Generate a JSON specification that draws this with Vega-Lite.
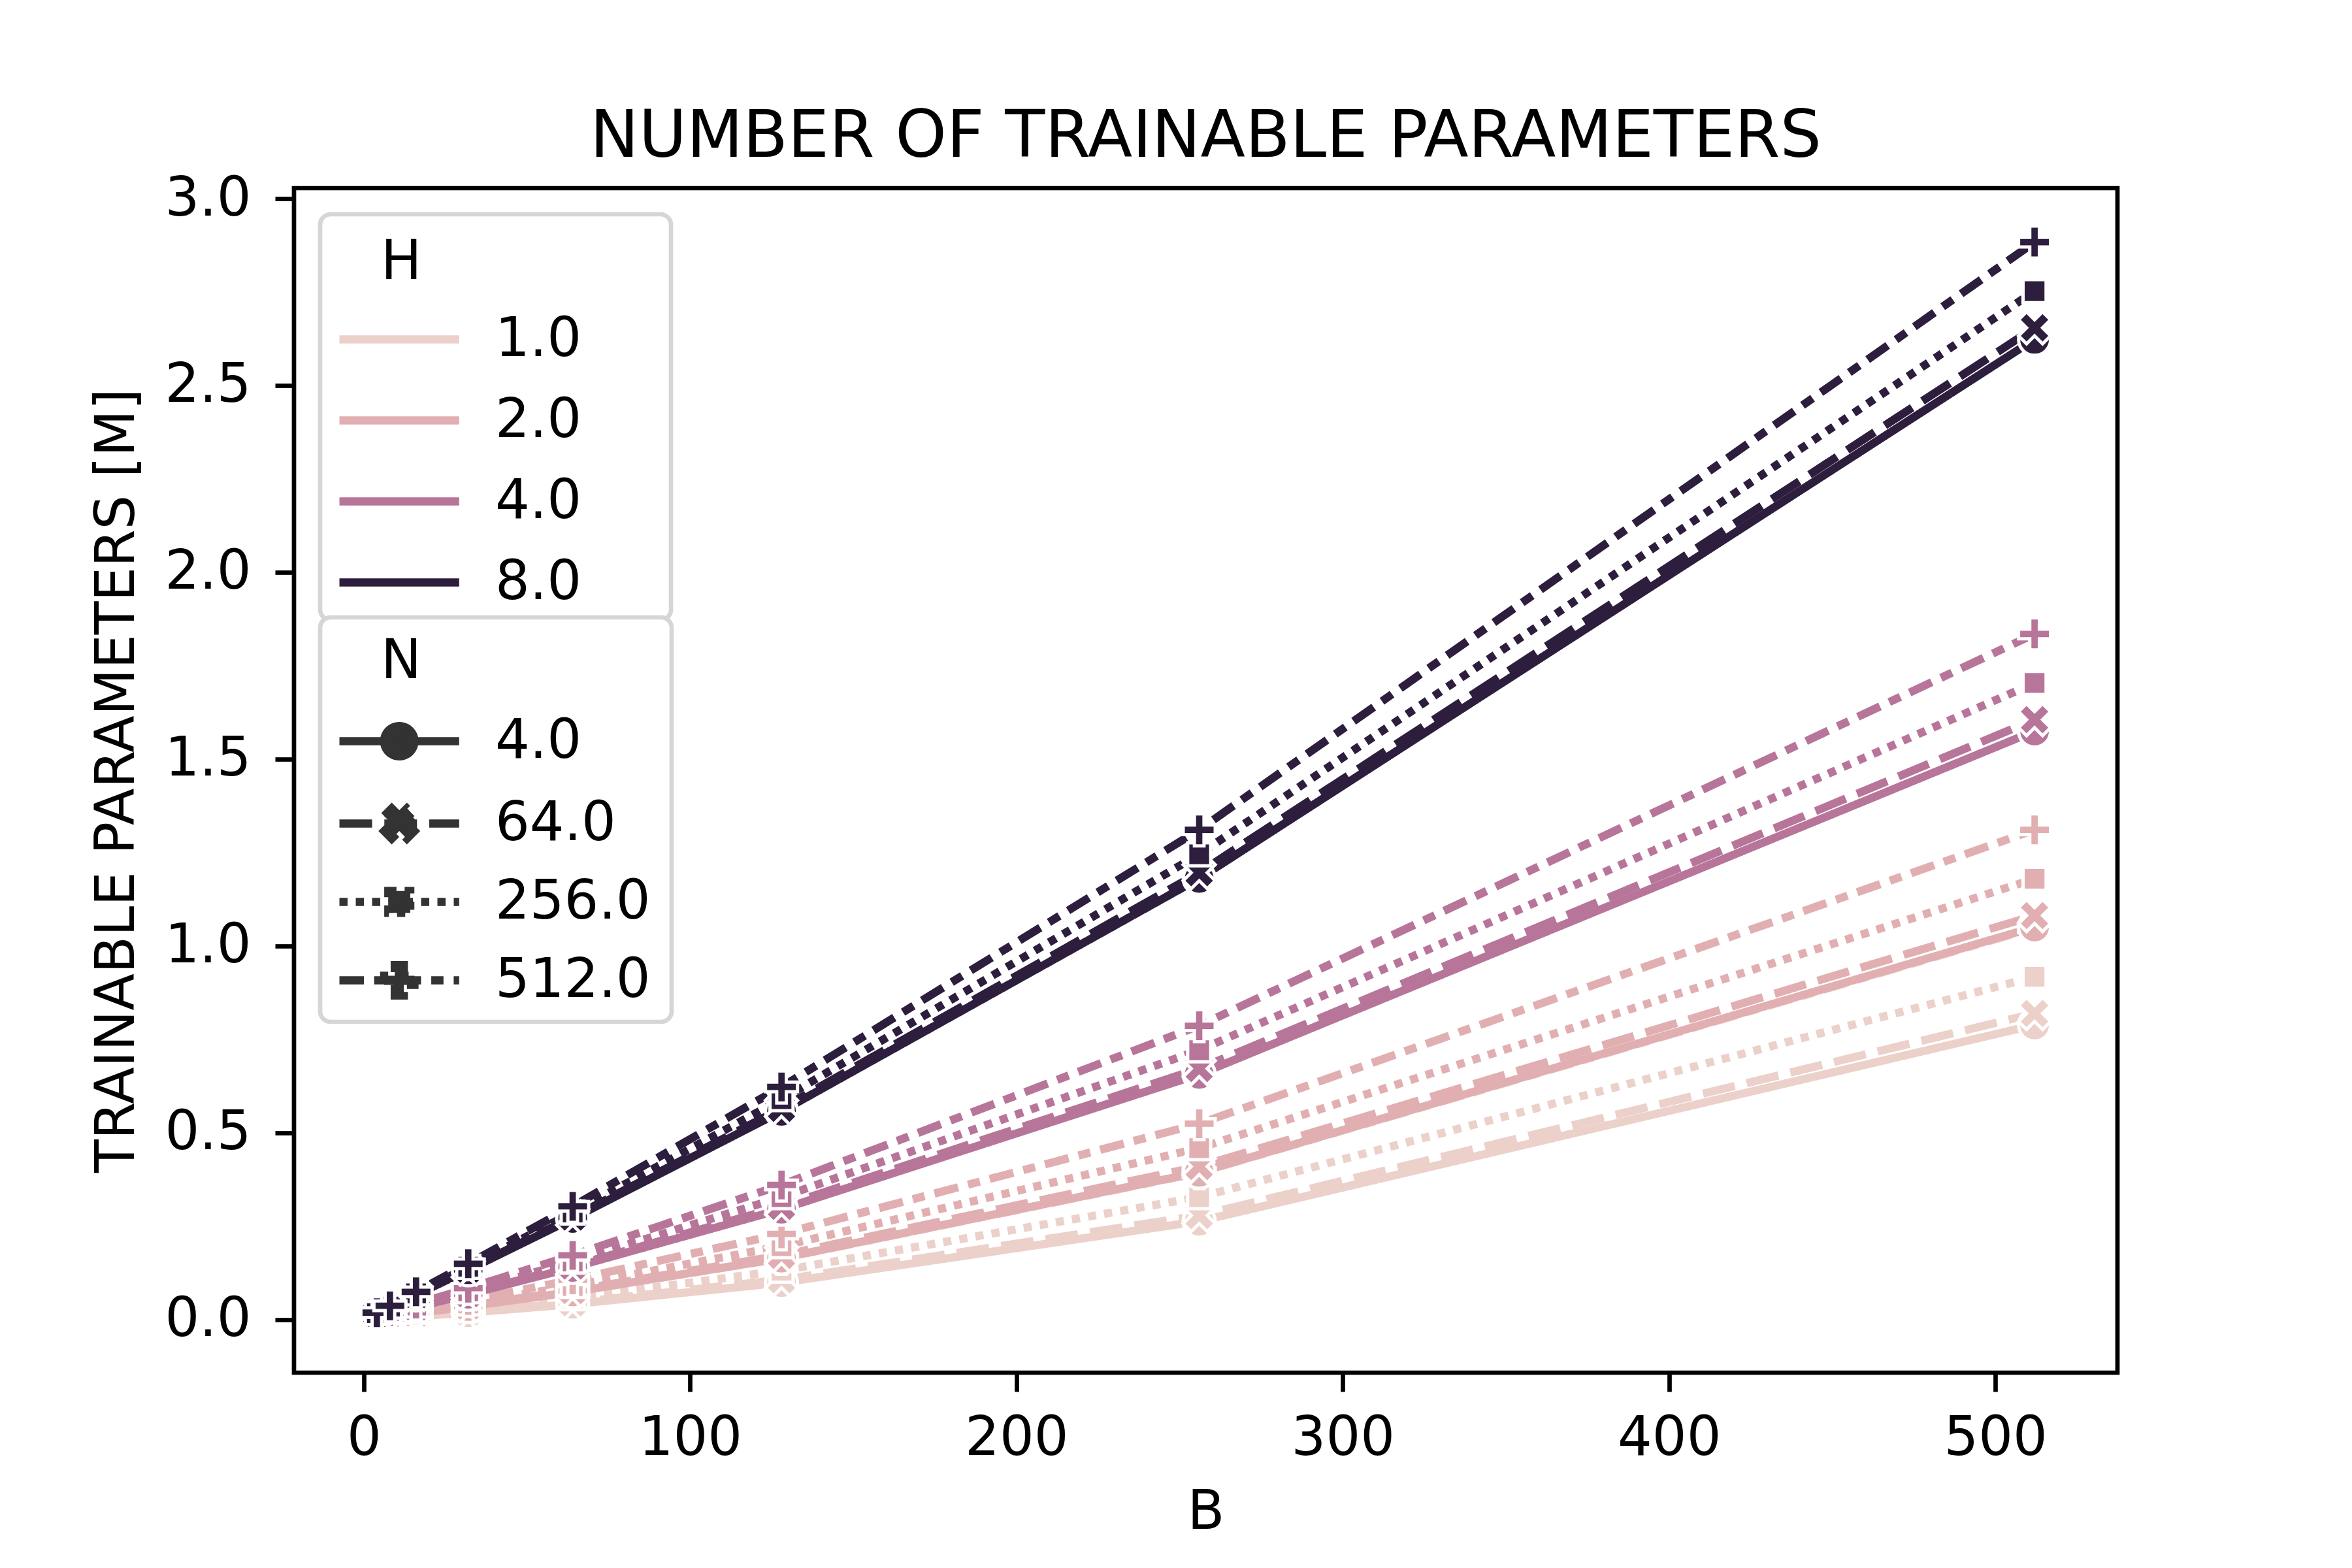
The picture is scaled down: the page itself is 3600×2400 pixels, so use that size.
{
  "$schema": "https://vega.github.io/schema/vega-lite/v6.json",
  "width": 2791,
  "height": 1813,
  "autosize": "none",
  "padding": {"left": 450, "top": 288, "right": 359, "bottom": 299},
  "background": "white",
  "title": {
    "text": "NUMBER OF TRAINABLE PARAMETERS",
    "fontSize": 100,
    "fontWeight": "normal",
    "color": "black",
    "anchor": "middle",
    "frame": "group",
    "baseline": "alphabetic",
    "offset": -77
  },
  "config": {
    "font": "DejaVu Sans",
    "view": {"stroke": "black", "strokeWidth": 6.7},
    "axis": {
      "grid": false,
      "domain": false,
      "tickColor": "black",
      "tickWidth": 6.7,
      "tickSize": 29,
      "labelColor": "black",
      "labelFontSize": 83,
      "titleFontSize": 83,
      "titleFontWeight": "normal",
      "titleColor": "black"
    },
    "legend": {
      "labelFontSize": 83,
      "titleFontSize": 83,
      "titleFontWeight": "normal",
      "labelColor": "black",
      "titleColor": "black",
      "padding": 15,
      "rowPadding": 40,
      "titlePadding": 38,
      "fillColor": "white",
      "strokeColor": "#d6d6d6",
      "strokeWidth": 6.7,
      "cornerRadius": 16,
      "symbolSize": 3364,
      "symbolStrokeWidth": 12.5,
      "labelOffset": 170,
      "labelLimit": 1000,
      "titleAnchor": "start"
    }
  },
  "data": {
    "values": [
      {"H": 1, "N": 4, "B": 4, "P": 0.0021}, {"H": 1, "N": 4, "B": 8, "P": 0.0043}, {"H": 1, "N": 4, "B": 16, "P": 0.0088}, {"H": 1, "N": 4, "B": 32, "P": 0.0186},
      {"H": 1, "N": 4, "B": 64, "P": 0.0412}, {"H": 1, "N": 4, "B": 128, "P": 0.0988}, {"H": 1, "N": 4, "B": 256, "P": 0.2632}, {"H": 1, "N": 4, "B": 512, "P": 0.7885},
      {"H": 1, "N": 64, "B": 4, "P": 0.0023}, {"H": 1, "N": 64, "B": 8, "P": 0.0047}, {"H": 1, "N": 64, "B": 16, "P": 0.0097}, {"H": 1, "N": 64, "B": 32, "P": 0.0205},
      {"H": 1, "N": 64, "B": 64, "P": 0.0451}, {"H": 1, "N": 64, "B": 128, "P": 0.1065}, {"H": 1, "N": 64, "B": 256, "P": 0.2785}, {"H": 1, "N": 64, "B": 512, "P": 0.8192},
      {"H": 1, "N": 256, "B": 4, "P": 0.0031}, {"H": 1, "N": 256, "B": 8, "P": 0.0063}, {"H": 1, "N": 256, "B": 16, "P": 0.0128}, {"H": 1, "N": 256, "B": 32, "P": 0.0266},
      {"H": 1, "N": 256, "B": 64, "P": 0.0573}, {"H": 1, "N": 256, "B": 128, "P": 0.1311}, {"H": 1, "N": 256, "B": 256, "P": 0.3277}, {"H": 1, "N": 256, "B": 512, "P": 0.9175},
      {"H": 1, "N": 512, "B": 4, "P": 0.0041}, {"H": 1, "N": 512, "B": 8, "P": 0.0083}, {"H": 1, "N": 512, "B": 16, "P": 0.0169}, {"H": 1, "N": 512, "B": 32, "P": 0.0348},
      {"H": 1, "N": 512, "B": 64, "P": 0.0737}, {"H": 1, "N": 512, "B": 128, "P": 0.1638}, {"H": 1, "N": 512, "B": 256, "P": 0.3932}, {"H": 1, "N": 512, "B": 512, "P": 1.0486},
      {"H": 2, "N": 4, "B": 4, "P": 0.0041}, {"H": 2, "N": 4, "B": 8, "P": 0.0084}, {"H": 2, "N": 4, "B": 16, "P": 0.0170}, {"H": 2, "N": 4, "B": 32, "P": 0.0349},
      {"H": 2, "N": 4, "B": 64, "P": 0.0740}, {"H": 2, "N": 4, "B": 128, "P": 0.1644}, {"H": 2, "N": 4, "B": 256, "P": 0.3942}, {"H": 2, "N": 4, "B": 512, "P": 1.0506},
      {"H": 2, "N": 64, "B": 4, "P": 0.0044}, {"H": 2, "N": 64, "B": 8, "P": 0.0088}, {"H": 2, "N": 64, "B": 16, "P": 0.0179}, {"H": 2, "N": 64, "B": 32, "P": 0.0369},
      {"H": 2, "N": 64, "B": 64, "P": 0.0778}, {"H": 2, "N": 64, "B": 128, "P": 0.1720}, {"H": 2, "N": 64, "B": 256, "P": 0.4096}, {"H": 2, "N": 64, "B": 512, "P": 1.0813},
      {"H": 2, "N": 256, "B": 4, "P": 0.0052}, {"H": 2, "N": 256, "B": 8, "P": 0.0104}, {"H": 2, "N": 256, "B": 16, "P": 0.0210}, {"H": 2, "N": 256, "B": 32, "P": 0.0430},
      {"H": 2, "N": 256, "B": 64, "P": 0.0901}, {"H": 2, "N": 256, "B": 128, "P": 0.1966}, {"H": 2, "N": 256, "B": 256, "P": 0.4588}, {"H": 2, "N": 256, "B": 512, "P": 1.1796},
      {"H": 2, "N": 512, "B": 4, "P": 0.0062}, {"H": 2, "N": 512, "B": 8, "P": 0.0124}, {"H": 2, "N": 512, "B": 16, "P": 0.0251}, {"H": 2, "N": 512, "B": 32, "P": 0.0512},
      {"H": 2, "N": 512, "B": 64, "P": 0.1065}, {"H": 2, "N": 512, "B": 128, "P": 0.2294}, {"H": 2, "N": 512, "B": 256, "P": 0.5243}, {"H": 2, "N": 512, "B": 512, "P": 1.3107},
      {"H": 4, "N": 4, "B": 4, "P": 0.0082}, {"H": 4, "N": 4, "B": 8, "P": 0.0165}, {"H": 4, "N": 4, "B": 16, "P": 0.0333}, {"H": 4, "N": 4, "B": 32, "P": 0.0677},
      {"H": 4, "N": 4, "B": 64, "P": 0.1395}, {"H": 4, "N": 4, "B": 128, "P": 0.2954}, {"H": 4, "N": 4, "B": 256, "P": 0.6564}, {"H": 4, "N": 4, "B": 512, "P": 1.5749},
      {"H": 4, "N": 64, "B": 4, "P": 0.0085}, {"H": 4, "N": 64, "B": 8, "P": 0.0170}, {"H": 4, "N": 64, "B": 16, "P": 0.0343}, {"H": 4, "N": 64, "B": 32, "P": 0.0696},
      {"H": 4, "N": 64, "B": 64, "P": 0.1434}, {"H": 4, "N": 64, "B": 128, "P": 0.3031}, {"H": 4, "N": 64, "B": 256, "P": 0.6717}, {"H": 4, "N": 64, "B": 512, "P": 1.6056},
      {"H": 4, "N": 256, "B": 4, "P": 0.0092}, {"H": 4, "N": 256, "B": 8, "P": 0.0186}, {"H": 4, "N": 256, "B": 16, "P": 0.0374}, {"H": 4, "N": 256, "B": 32, "P": 0.0758},
      {"H": 4, "N": 256, "B": 64, "P": 0.1556}, {"H": 4, "N": 256, "B": 128, "P": 0.3277}, {"H": 4, "N": 256, "B": 256, "P": 0.7209}, {"H": 4, "N": 256, "B": 512, "P": 1.7039},
      {"H": 4, "N": 512, "B": 4, "P": 0.0103}, {"H": 4, "N": 512, "B": 8, "P": 0.0206}, {"H": 4, "N": 512, "B": 16, "P": 0.0415}, {"H": 4, "N": 512, "B": 32, "P": 0.0840},
      {"H": 4, "N": 512, "B": 64, "P": 0.1720}, {"H": 4, "N": 512, "B": 128, "P": 0.3604}, {"H": 4, "N": 512, "B": 256, "P": 0.7864}, {"H": 4, "N": 512, "B": 512, "P": 1.8350},
      {"H": 8, "N": 4, "B": 4, "P": 0.0164}, {"H": 8, "N": 4, "B": 8, "P": 0.0329}, {"H": 8, "N": 4, "B": 16, "P": 0.0661}, {"H": 8, "N": 4, "B": 32, "P": 0.1332},
      {"H": 8, "N": 4, "B": 64, "P": 0.2706}, {"H": 8, "N": 4, "B": 128, "P": 0.5576}, {"H": 8, "N": 4, "B": 256, "P": 1.1807}, {"H": 8, "N": 4, "B": 512, "P": 2.6235},
      {"H": 8, "N": 64, "B": 4, "P": 0.0167}, {"H": 8, "N": 64, "B": 8, "P": 0.0334}, {"H": 8, "N": 64, "B": 16, "P": 0.0671}, {"H": 8, "N": 64, "B": 32, "P": 0.1352},
      {"H": 8, "N": 64, "B": 64, "P": 0.2744}, {"H": 8, "N": 64, "B": 128, "P": 0.5652}, {"H": 8, "N": 64, "B": 256, "P": 1.1960}, {"H": 8, "N": 64, "B": 512, "P": 2.6542},
      {"H": 8, "N": 256, "B": 4, "P": 0.0174}, {"H": 8, "N": 256, "B": 8, "P": 0.0349}, {"H": 8, "N": 256, "B": 16, "P": 0.0701}, {"H": 8, "N": 256, "B": 32, "P": 0.1413},
      {"H": 8, "N": 256, "B": 64, "P": 0.2867}, {"H": 8, "N": 256, "B": 128, "P": 0.5898}, {"H": 8, "N": 256, "B": 256, "P": 1.2452}, {"H": 8, "N": 256, "B": 512, "P": 2.7525},
      {"H": 8, "N": 512, "B": 4, "P": 0.0185}, {"H": 8, "N": 512, "B": 8, "P": 0.0370}, {"H": 8, "N": 512, "B": 16, "P": 0.0742}, {"H": 8, "N": 512, "B": 32, "P": 0.1495},
      {"H": 8, "N": 512, "B": 64, "P": 0.3031}, {"H": 8, "N": 512, "B": 128, "P": 0.6226}, {"H": 8, "N": 512, "B": 256, "P": 1.3107}, {"H": 8, "N": 512, "B": 512, "P": 2.8836}
    ]
  },
  "encoding": {
    "x": {
      "field": "B",
      "type": "quantitative",
      "title": "B",
      "scale": {"domain": [-21.4, 537.4], "nice": false, "zero": false},
      "axis": {"values": [0, 100, 200, 300, 400, 500], "labelPadding": 30, "titlePadding": 30}
    },
    "y": {
      "field": "P",
      "type": "quantitative",
      "title": "TRAINABLE PARAMETERS [M]",
      "scale": {"domain": [-0.142, 3.028], "nice": false, "zero": false},
      "axis": {"values": [0, 0.5, 1, 1.5, 2, 2.5, 3], "format": ".1f", "labelPadding": 37, "titlePadding": 31}
    }
  },
  "layer": [
    {
      "mark": {"type": "line", "strokeWidth": 12.5, "strokeCap": "butt", "strokeJoin": "round"},
      "encoding": {
        "color": {
          "field": "H",
          "type": "ordinal",
          "scale": {"domain": [1, 2, 4, 8], "range": ["#ecd0ca", "#e1afb1", "#b8759a", "#2d1e3e"]},
          "legend": {
            "title": "H",
            "orient": "none",
            "legendX": 40,
            "legendY": 40,
            "titlePadding": 52,
            "symbolType": "M-0.93,0H5.39",
            "labelExpr": "format(datum.value, '.1f') + '\u2800\u2800'",
            "encode": {
              "title": {"update": {"dx": {"value": 78}, "dy": {"value": 18}}},
              "symbols": {"update": {"stroke": {"scale": "color", "field": "value"}, "fill": {"value": "transparent"}, "strokeWidth": {"value": 12.5}}}
            }
          }
        },
        "strokeDash": {
          "field": "N",
          "type": "ordinal",
          "scale": {"domain": [4, 64, 256, 512], "range": [[1, 0], [50, 18.75], [12.5, 12.5], [37.5, 15.6, 18.75, 15.6]]},
          "legend": {
            "title": "N",
            "orient": "none",
            "legendX": 40,
            "legendY": 657,
            "titlePadding": 50,
            "rowPadding": 29,
            "symbolType": "M-0.93,0H5.39",
            "labelExpr": "format(datum.value, '.1f') + '\u2009\u200b'",
            "encode": {
              "title": {"update": {"dx": {"value": 78}, "dy": {"value": 12}}},
              "symbols": {
                "update": {
                  "shape": {"signal": "datum.value == 4 ? 'M-0.93,0H5.39M3.03,0A0.8,0.8,0,1,1,1.43,0A0.8,0.8,0,1,1,3.03,0Z' : datum.value == 64 ? 'M-0.93,0H5.39M1.43,-0.4L1.83,-0.8L2.23,-0.4L2.63,-0.8L3.03,-0.4L2.63,0L3.03,0.4L2.63,0.8L2.23,0.4L1.83,0.8L1.43,0.4L1.83,0Z' : datum.value == 256 ? 'M-0.93,0H5.39M1.65,-0.58H2.81V0.58H1.65Z' : 'M-0.93,0H5.39M1.99,-0.8H2.47V-0.24H3.03V0.24H2.47V0.8H1.99V0.24H1.43V-0.24H1.99Z'"},
                  "fill": {"value": "#333333"},
                  "stroke": {"value": "#333333"},
                  "strokeWidth": {"value": 12.5},
                  "opacity": {"value": 1}
                }
              }
            }
          }
        },
        "order": {"field": "B"}
      }
    },
    {
      "mark": {"type": "point", "filled": true, "size": 2401, "stroke": "white", "strokeWidth": 5, "opacity": 1},
      "encoding": {
        "color": {"field": "H", "type": "ordinal"},
        "shape": {
          "condition": [
            {"test": "datum.N == 4", "value": "circle"},
            {"test": "datum.N == 64", "value": "M-0.5,-1L0,-0.5L0.5,-1L1,-0.5L0.5,0L1,0.5L0.5,1L0,0.5L-0.5,1L-1,0.5L-0.5,0L-1,-0.5Z"},
            {"test": "datum.N == 256", "value": "M-0.72,-0.72H0.72V0.72H-0.72Z"}
          ],
          "value": "M-0.3,-1H0.3V-0.3H1V0.3H0.3V1H-0.3V0.3H-1V-0.3H-0.3Z"
        }
      }
    }
  ]
}
